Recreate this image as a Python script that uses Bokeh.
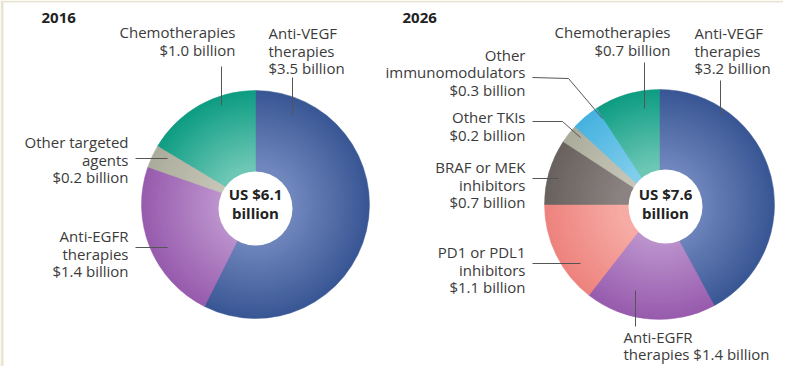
from bokeh.plotting import figure
from bokeh.models import Range1d, ColumnDataSource
from bokeh.core.properties import value
from bokeh.embed import file_html
from bokeh.resources import INLINE
import math

# ---------------- data ----------------
years = ["2016", "2026"]
totals = [6.1, 7.6]

cats_2016 = ["Anti-VEGF\ntherapies", "Anti-EGFR\ntherapies", "Other targeted\nagents", "Chemotherapies"]
vals_2016 = [3.5, 1.4, 0.2, 1.0]
seps_2016 = ["\n", "\n", "\n", "\n"]

cats_2026 = ["Anti-VEGF\ntherapies", "Anti-EGFR\ntherapies", "PD1 or PDL1\ninhibitors",
             "BRAF or MEK\ninhibitors", "Other TKIs", "Other\nimmunomodulators", "Chemotherapies"]
vals_2026 = [3.2, 1.4, 1.1, 0.7, 0.2, 0.3, 0.7]
seps_2026 = ["\n", " ", "\n", "\n", "\n", "\n", "\n"]

# colours (outer, inner) per category
col = {
    "vegf": ("#3a5795", "#7087bd"),
    "egfr": ("#985cae", "#bb92cc"),
    "other": ("#acac9c", "#c6c6b8"),
    "chemo": ("#0f9d83", "#6cc7b5"),
    "pd1": ("#ee837e", "#f6aca5"),
    "braf": ("#69625f", "#8a8381"),
    "tki": ("#acac9c", "#c6c6b8"),
    "immuno": ("#46b2df", "#80cdec"),
}
keys_2016 = ["vegf", "egfr", "other", "chemo"]
keys_2026 = ["vegf", "egfr", "pd1", "braf", "tki", "immuno", "chemo"]

W, H = 783, 366
SY = lambda sy: 382 - sy  # screen y -> data y

p = figure(width=W, height=H, x_range=Range1d(0, W), y_range=Range1d(382 - H, 382),
           output_backend="svg", toolbar_location=None, min_border=0)
p.axis.visible = False
p.grid.visible = False
p.outline_line_color = None
p.background_fill_color = "white"
p.border_fill_color = "white"

# thin beige frame (left and top)
p.quad(left=[0], right=[3], bottom=[SY(382)], top=[SY(0)], fill_color="#e9e5d2", line_color=None)
p.quad(left=[0], right=[783], bottom=[SY(2)], top=[SY(0)], fill_color="#e9e5d2", line_color=None)

def mix(c1, c2, t):
    a = [int(c1[i:i + 2], 16) for i in (1, 3, 5)]
    b = [int(c2[i:i + 2], 16) for i in (1, 3, 5)]
    return "#%02x%02x%02x" % tuple(round(a[i] + (b[i] - a[i]) * t) for i in range(3))

def pie(cx, cy, R, vals, keys):
    tot = sum(vals)
    starts, ends = [], []
    cum = 0.0
    for v in vals:
        a0 = math.pi / 2 - 2 * math.pi * (cum + v) / tot
        a1 = math.pi / 2 - 2 * math.pi * cum / tot
        starts.append(a0)
        ends.append(a1)
        cum += v
    N = 24
    for k in range(N):
        t = k / (N - 1)
        r = R - (R - 40) * t
        colors = [mix(col[kk][0], col[kk][1], t) for kk in keys]
        src = ColumnDataSource(dict(x=[cx] * len(vals), y=[SY(cy)] * len(vals),
                                    s=starts, e=ends, c=colors))
        p.wedge(x="x", y="y", radius=r, start_angle="s", end_angle="e", source=src,
                fill_color="c", line_color="c", line_width=0.5)

pie(255, 204, 114, vals_2016, keys_2016)
pie(659, 204, 115, vals_2026, keys_2026)

# inner white circles
p.circle(x=[255, 665], y=[SY(208), SY(206)], radius=37, fill_color="white", line_color=None)

FONT = value("Open Sans")
TXT = "#3b3b3b"

# centre totals
p.text(x=[255, 665], y=[SY(203), SY(203)],
       text=["US $%.1f\nbillion" % t for t in totals],
       text_font=FONT, text_font_style="bold", text_font_size="15px", text_color="#222222",
       text_align="center", text_baseline="middle", text_line_height=0.95)

# year titles
p.text(x=[41, 402], y=[SY(17), SY(17)], text=years, text_font=FONT, text_font_style="bold",
       text_font_size="15px", text_color="#222222", text_align="left", text_baseline="middle")

def labels(cats, vals, seps, pos):
    xs, ys, ts, al = [], [], [], []
    for c, v, s, (x, y, a) in zip(cats, vals, seps, pos):
        xs.append(x)
        ys.append(SY(y))
        ts.append("%s%s$%.1f billion" % (c, s, v))
        al.append(a)
    src = ColumnDataSource(dict(x=xs, y=ys, t=ts, a=al))
    p.text(x="x", y="y", text="t", text_align="a", source=src, text_font=FONT,
           text_font_size="15px", text_color=TXT, text_baseline="middle", text_line_height=0.875)

labels(cats_2016, vals_2016, seps_2016,
       [(268, 50, "left"), (128, 253, "right"), (128, 159, "right"), (235, 40.5, "right")])
labels(cats_2026, vals_2026, seps_2026,
       [(694, 50, "left"), (623, 345, "left"), (525, 269, "right"), (525, 184, "right"),
        (525, 125.5, "right"), (525, 71.5, "right"), (670, 40.5, "right")])

# leader lines (layout)
leaders = [
    [(221, 66), (221, 105)],
    [(292, 77), (292, 115)],
    [(135, 158), (167, 158)],
    [(135, 247), (167, 247)],
    [(644, 62), (644, 108)],
    [(720, 80), (720, 115)],
    [(532, 77), (568, 78), (602, 118)],
    [(532, 121), (562, 121), (580, 137)],
    [(532, 178), (558, 178)],
    [(532, 263), (580, 263)],
    [(635, 290), (635, 326)],
]
p.multi_line(xs=[[a for a, b in l] for l in leaders], ys=[[SY(b) for a, b in l] for l in leaders],
             line_color="#555555", line_width=1)

open("out.html", "w").write(file_html(p, INLINE))
